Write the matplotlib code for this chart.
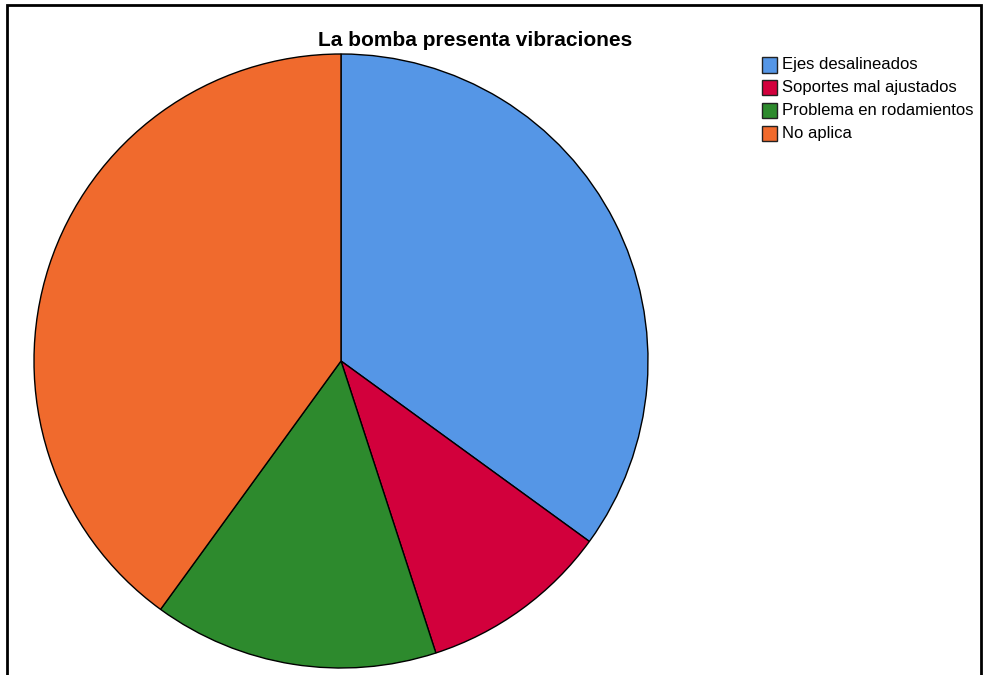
import matplotlib.pyplot as plt
from matplotlib.patches import Rectangle

plt.rcParams['font.family'] = ['Liberation Sans', 'DejaVu Sans']

titulo = "La bomba presenta vibraciones"
categorias = ["Ejes desalineados", "Soportes mal ajustados",
              "Problema en rodamientos", "No aplica"]
porcentajes = [35, 10, 15, 40]
colores = ["#5596e6", "#d2003c", "#2d8a2d", "#f06a2d"]

W, H = 983, 675
fig = plt.figure(figsize=(W / 100, H / 100), dpi=100)

# pie axes placed in pixels: centre (341, 361), radius 307
cx, cy, r = 341, 361, 307
ax = fig.add_axes([(cx - r) / W, (H - cy - r) / H, 2 * r / W, 2 * r / H])
ax.pie(porcentajes, colors=colores, startangle=90, counterclock=False,
       radius=1, wedgeprops=dict(edgecolor='black', linewidth=1))
ax.set_xlim(-1, 1)
ax.set_ylim(-1, 1)
ax.set_aspect('equal')
ax.axis('off')

fig.text(475 / W, 1 - 40 / H, titulo, ha='center', va='center',
         fontsize=15, fontweight='bold')

# outer frame
fig.add_artist(Rectangle((7 / W, -0.05), 974 / W, 1.05 - 5 / H,
                         transform=fig.transFigure, fill=False,
                         edgecolor='black', linewidth=2, clip_on=False))

# legend
for i, (lab, col) in enumerate(zip(categorias, colores)):
    y = 65 + i * 22.8
    fig.add_artist(Rectangle((762 / W, 1 - (y + 7.5) / H), 15 / W, 15 / H,
                             transform=fig.transFigure, facecolor=col,
                             edgecolor='#222222', linewidth=1))
    fig.text(782 / W, 1 - y / H, lab, ha='left', va='center', fontsize=12)

fig.savefig("out.png", dpi=100)
